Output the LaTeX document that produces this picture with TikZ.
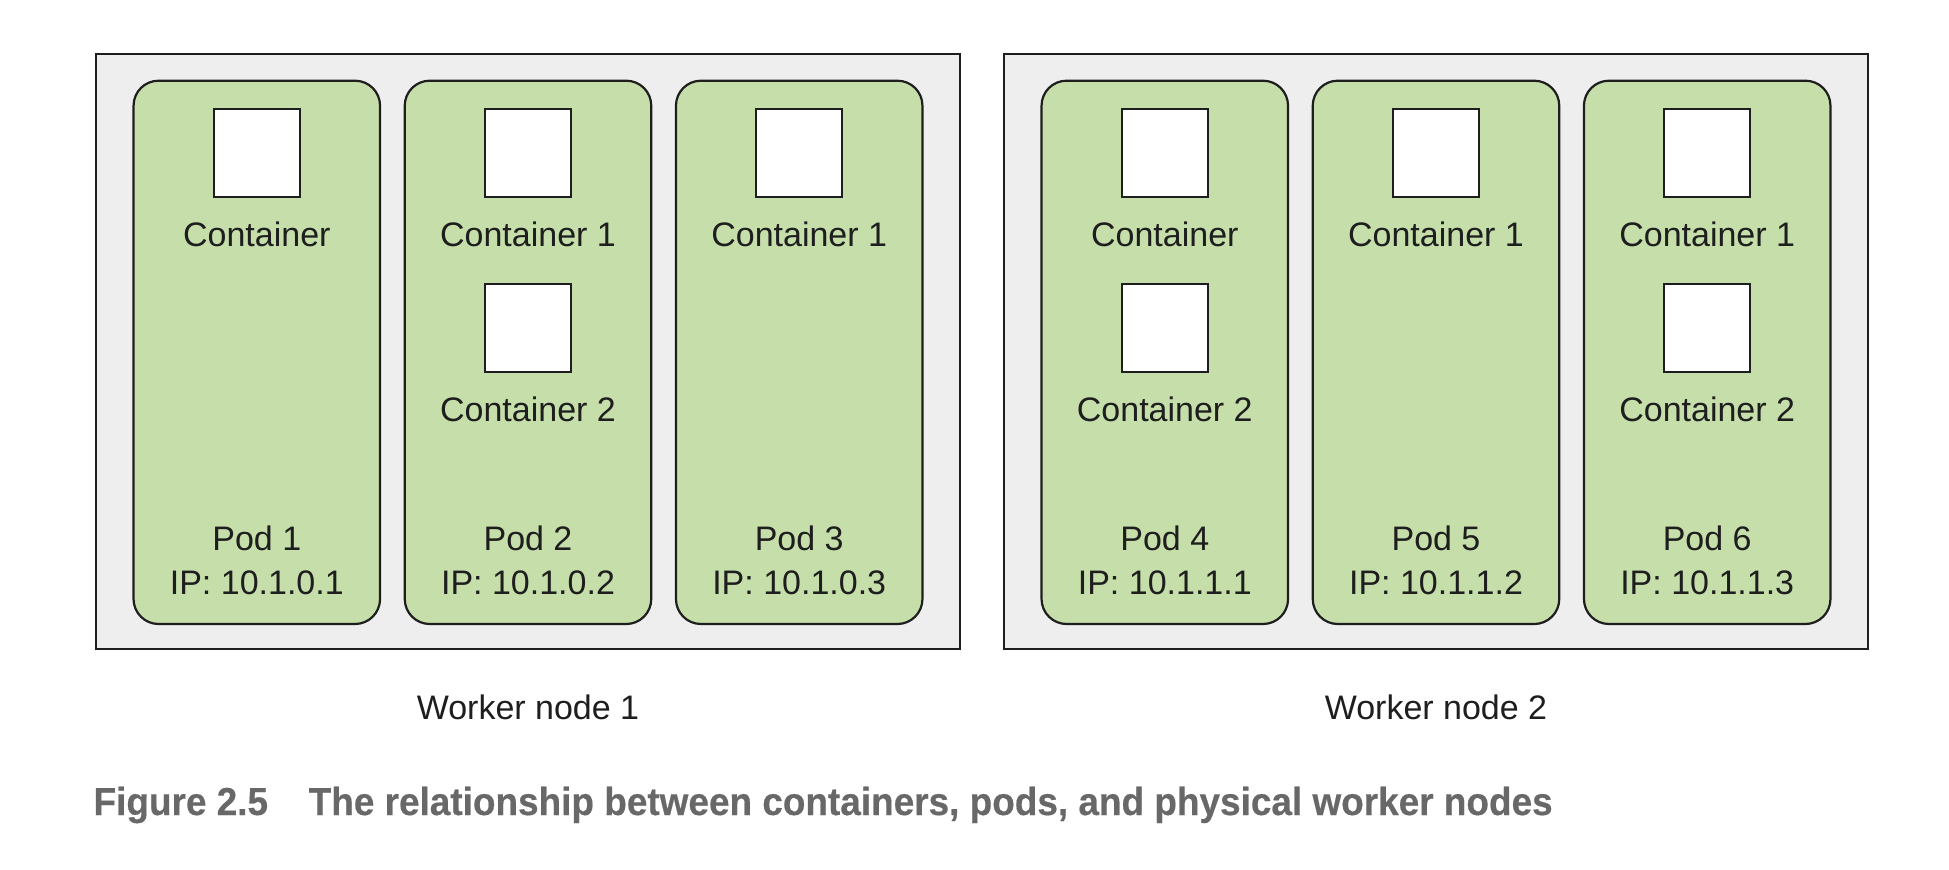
\documentclass[tikz,border=0pt]{standalone}
\usepackage{fontspec}
\setmainfont{Liberation Sans}
\newfontfamily\capfont[FakeBold=0.4]{Liberation Sans Bold}
\usepackage{graphicx}
\definecolor{podgreen}{HTML}{C5DEAA}
\definecolor{wgray}{HTML}{EEEEEE}
\definecolor{capgray}{HTML}{686868}
\definecolor{ink}{HTML}{1E1E1E}
\begin{document}
\begin{tikzpicture}[x=1pt,y=-1pt,
  wbox/.style={draw=ink, line width=2pt, fill=wgray, minimum width=864pt, minimum height=595pt, inner sep=0pt},
  pod/.style={draw=ink, line width=2.2pt, fill=podgreen, rounded corners=25pt, minimum width=246.5pt, minimum height=543.3pt, inner sep=0pt},
  ctr/.style={draw=ink, line width=2.2pt, fill=white, minimum width=86pt, minimum height=88pt, inner sep=0pt},
  lbl/.style={anchor=base, inner sep=0pt, font=\fontsize{34}{44}\selectfont, text=ink},
  figcaption/.style={anchor=base west, inner sep=0pt, text=capgray}]
\useasboundingbox (0,0) rectangle (1949,870);
\fill[white] (0,0) rectangle (1949,870);
% worker nodes
\node[wbox] (w1) at (528,351.5) {};
\node[wbox] (w2) at (1436,351.5) {};
% pods
\node[pod] (p1) at (256.8,352.35) {};
\node[pod] (p2) at (528,352.35) {};
\node[pod] (p3) at (799.2,352.35) {};
\node[pod] (p4) at (1164.8,352.35) {};
\node[pod] (p5) at (1436,352.35) {};
\node[pod] (p6) at (1707.2,352.35) {};
% containers
\node[ctr] (c1a) at (256.8,153) {};
\node[ctr] (c2a) at (528,153) {};
\node[ctr] (c2b) at (528,328) {};
\node[ctr] (c3a) at (799.2,153) {};
\node[ctr] (c4a) at (1164.8,153) {};
\node[ctr] (c4b) at (1164.8,328) {};
\node[ctr] (c5a) at (1436,153) {};
\node[ctr] (c6a) at (1707.2,153) {};
\node[ctr] (c6b) at (1707.2,328) {};
% container labels
\node[lbl] (t1a) at (256.8,246.7) {Container};
\node[lbl] (t2a) at (528,246.7) {Container 1};
\node[lbl] (t2b) at (528,421.7) {Container 2};
\node[lbl] (t3a) at (799.2,246.7) {Container 1};
\node[lbl] (t4a) at (1164.8,246.7) {Container};
\node[lbl] (t4b) at (1164.8,421.7) {Container 2};
\node[lbl] (t5a) at (1436,246.7) {Container 1};
\node[lbl] (t6a) at (1707.2,246.7) {Container 1};
\node[lbl] (t6b) at (1707.2,421.7) {Container 2};
% pod labels
\node[lbl] (n1) at (256.8,550) {Pod 1};
\node[lbl] (i1) at (256.8,594) {IP: 10.1.0.1};
\node[lbl] (n2) at (528,550) {Pod 2};
\node[lbl] (i2) at (528,594) {IP: 10.1.0.2};
\node[lbl] (n3) at (799.2,550) {Pod 3};
\node[lbl] (i3) at (799.2,594) {IP: 10.1.0.3};
\node[lbl] (n4) at (1164.8,550) {Pod 4};
\node[lbl] (i4) at (1164.8,594) {IP: 10.1.1.1};
\node[lbl] (n5) at (1436,550) {Pod 5};
\node[lbl] (i5) at (1436,594) {IP: 10.1.1.2};
\node[lbl] (n6) at (1707.2,550) {Pod 6};
\node[lbl] (i6) at (1707.2,594) {IP: 10.1.1.3};
% worker node labels
\node[lbl] (wl1) at (528,719) {Worker node 1};
\node[lbl] (wl2) at (1436,719) {Worker node 2};
% caption
\node[figcaption] (caption) at (93.4,815) {\resizebox{1459pt}{\height}{\fontsize{39}{44}\capfont Figure 2.5\hspace{1.1em}The relationship between containers, pods, and physical worker nodes}};
\end{tikzpicture}
\end{document}
